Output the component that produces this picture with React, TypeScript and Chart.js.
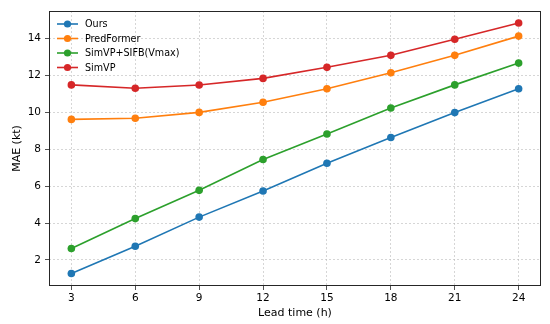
import React, { useEffect, useRef } from "react";
import { Chart, registerables } from "chart.js";

Chart.register(...registerables);

const leadTimes = [3, 6, 9, 12, 15, 18, 21, 24];
const oursMAE = [1.27, 2.74, 4.32, 5.73, 7.24, 8.63, 9.98, 11.27];
const predFormerMAE = [9.61, 9.67, 9.99, 10.54, 11.27, 12.14, 13.08, 14.12];
const simvpSifbMAE = [2.62, 4.24, 5.77, 7.44, 8.82, 10.23, 11.48, 12.66];
const simvpMAE = [11.48, 11.3, 11.47, 11.83, 12.43, 13.08, 13.95, 14.83];

const seriesLabels = ["Ours", "PredFormer", "SimVP+SIFB(Vmax)", "SimVP"];
const seriesColors = ["#1f77b4", "#ff7f0e", "#2ca02c", "#d62728"];
const seriesValues = [oursMAE, predFormerMAE, simvpSifbMAE, simvpMAE];

const xTicks = [3, 6, 9, 12, 15, 18, 21, 24];
const yTicks = [2, 4, 6, 8, 10, 12, 14];

const FONT = "'DejaVu Sans', sans-serif";

const framePlugin = {
  id: "frame",
  afterDraw(chart: any) {
    const { ctx, chartArea } = chart;
    ctx.save();
    ctx.strokeStyle = "#262626";
    ctx.lineWidth = 1;
    ctx.strokeRect(
      Math.round(chartArea.left) + 0.5,
      Math.round(chartArea.top) + 0.5,
      Math.round(chartArea.right - chartArea.left) - 1,
      Math.round(chartArea.bottom - chartArea.top) - 1
    );
    ctx.restore();
  },
};

const legendPlugin = {
  id: "innerLegend",
  afterDraw(chart: any) {
    const { ctx, chartArea } = chart;
    const x0 = chartArea.left + 8;
    const y0 = chartArea.top + 13;
    const rowH = 14.5;
    ctx.save();
    ctx.font = `9.6px ${FONT}`;
    ctx.textBaseline = "middle";
    chart.data.datasets.forEach((ds: any, i: number) => {
      const y = y0 + i * rowH;
      ctx.strokeStyle = ds.borderColor;
      ctx.lineWidth = 1.6;
      ctx.beginPath();
      ctx.moveTo(x0, y);
      ctx.lineTo(x0 + 21, y);
      ctx.stroke();
      ctx.fillStyle = ds.backgroundColor;
      ctx.beginPath();
      ctx.arc(x0 + 10.5, y, 3.6, 0, Math.PI * 2);
      ctx.fill();
      ctx.fillStyle = "#000";
      ctx.fillText(ds.label, x0 + 28, y + 0.5);
    });
    ctx.restore();
  },
};

export default function App() {
  const ref = useRef<HTMLCanvasElement | null>(null);
  useEffect(() => {
    if (!ref.current) return;
    const chart = new Chart(ref.current, {
      type: "line",
      data: {
        datasets: seriesLabels.map((label, i) => ({
          label,
          data: leadTimes.map((x, j) => ({ x, y: seriesValues[i][j] })),
          borderColor: seriesColors[i],
          backgroundColor: seriesColors[i],
          pointBackgroundColor: seriesColors[i],
          pointBorderWidth: 0,
          pointRadius: 3.8,
          borderWidth: 1.6,
          tension: 0,
        })),
      },
      options: {
        responsive: false,
        animation: false,
        devicePixelRatio: 1,
        layout: { padding: { top: 11, right: 9, left: 0, bottom: 0 } },
        plugins: { legend: { display: false }, tooltip: { enabled: false } },
        scales: {
          x: {
            type: "linear",
            min: 1.95,
            max: 25.05,
            afterBuildTicks: (s: any) => {
              s.ticks = xTicks.map((v) => ({ value: v }));
            },
            afterFit: (s: any) => {
              s.height = 38;
            },
            grid: {
              color: "rgba(176,176,176,0.65)",
              lineWidth: 0.8,
              tickColor: "#262626",
              tickLength: 4,
              tickBorderDash: [],
            },
            border: { display: false, dash: [2, 2] },
            ticks: {
              color: "#000",
              font: { family: FONT, size: 10.5 },
              padding: 2,
              maxRotation: 0,
              autoSkip: false,
            },
            title: {
              display: true,
              text: "Lead time (h)",
              color: "#000",
              font: { family: FONT, size: 11 },
              padding: { top: 0, bottom: 4 },
            },
          },
          y: {
            type: "linear",
            min: 0.59,
            max: 15.48,
            afterBuildTicks: (s: any) => {
              s.ticks = yTicks.map((v) => ({ value: v }));
            },
            afterFit: (s: any) => {
              s.width = 49;
            },
            grid: {
              color: "rgba(176,176,176,0.65)",
              lineWidth: 0.8,
              tickColor: "#262626",
              tickLength: 4,
              tickBorderDash: [],
            },
            border: { display: false, dash: [2, 2] },
            ticks: {
              color: "#000",
              font: { family: FONT, size: 10.5 },
              padding: 4,
              autoSkip: false,
            },
            title: {
              display: true,
              text: "MAE (kt)",
              color: "#000",
              font: { family: FONT, size: 11 },
              padding: { top: 11, bottom: 0 },
            },
          },
        },
      },
      plugins: [framePlugin, legendPlugin],
    } as any);
    return () => chart.destroy();
  }, []);
  return (
    <div style={{ position: "absolute", left: 0, top: 0, width: 550, height: 324, background: "#fff" }}>
      <canvas ref={ref} width={550} height={324} style={{ display: "block" }} />
    </div>
  );
}
